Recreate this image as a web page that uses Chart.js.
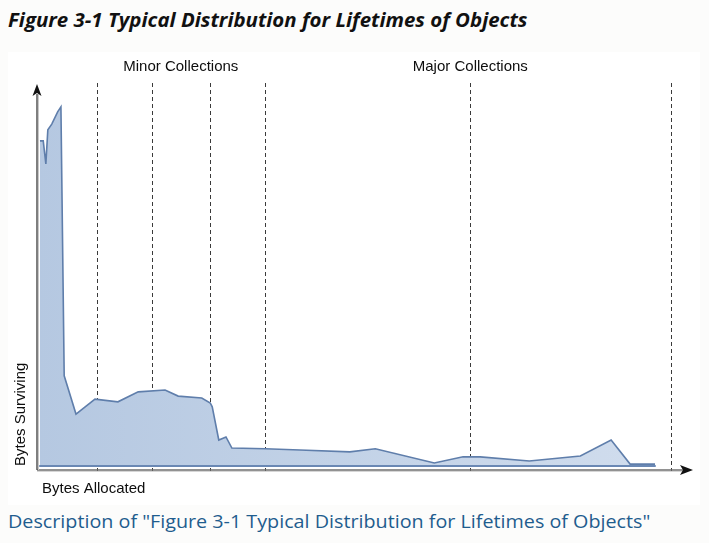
<!DOCTYPE html>
<html>
<head>
<meta charset="utf-8">
<script src="https://cdn.jsdelivr.net/npm/chart.js@4.4.1/dist/chart.umd.min.js"></script>
<style>
  body { margin: 0; background: #fcfcfb; width: 709px; height: 543px; overflow: hidden; position: relative; }
  #title { position: absolute; left: 8px; top: 7px; font-family: "Open Sans", sans-serif; font-weight: bold; font-style: italic; font-size: 19px; color: #111; white-space: nowrap; transform-origin: left top; }
  #box { position: absolute; left: 8px; top: 52px; width: 692px; height: 453px; background: #fff; }
  #caption { position: absolute; left: 8px; top: 508px; font-family: "Open Sans", sans-serif; font-size: 19px; color: #1f5d8e; white-space: nowrap; transform-origin: left top; }
  #wrap { position: absolute; left: 0; top: 0; width: 709px; height: 543px; }
</style>
</head>
<body>
<div id="title">Figure 3-1 Typical Distribution for Lifetimes of Objects</div>
<div id="box"></div>
<div id="caption">Description of "Figure 3-1 Typical Distribution for Lifetimes of Objects"</div>
<div id="wrap"><canvas id="lifetimes"></canvas></div>
<script>
// bytes allocated (0-100 along the axis) and bytes surviving (0-100 up the axis)
var allocated = [0.3, 0.8, 1.2, 1.5, 2.1, 3.0, 3.5, 4.0, 5.8, 8.7, 12.2, 15.3, 19.4, 21.4, 25.0, 26.3, 26.6,
  27.6, 28.7, 29.6, 34.7, 40.0, 47.6, 51.5, 60.5, 64.9, 67.5, 75.0, 82.8, 87.5, 90.4, 94.2];
var surviving = [85.1, 85.1, 79.1, 88.0, 89.5, 92.7, 94.0, 23.6, 13.6, 17.5, 16.8, 19.4, 19.9, 18.3, 17.8, 16.5, 15.5,
  6.8, 7.6, 4.7, 4.5, 4.2, 3.7, 4.5, 0.8, 2.4, 2.4, 1.3, 2.6, 6.8, 0.5, 0.5];

var collections = [9.0, 17.4, 26.3, 34.7, 66.0, 96.6];
var groupLabels = ['Minor Collections', 'Major Collections'];
var groupCenters = [21.8, 66.0];

// fit html texts to the widths in the figure
function fitWidth(id, w) {
  var el = document.getElementById(id);
  el.style.transform = 'scaleX(' + (w / el.offsetWidth) + ')';
}
fitWidth('title', 520);
fitWidth('caption', 642);

var points = allocated.map(function (x, i) { return { x: x, y: surviving[i] }; });

var decor = {
  id: 'decor',
  beforeDatasetsDraw: function (chart) {
    var c = chart.ctx, xs = chart.scales.x, ys = chart.scales.y;
    var y0 = ys.getPixelForValue(0), top = ys.getPixelForValue(100);
    c.save();
    c.strokeStyle = '#3a3a3a';
    c.lineWidth = 1;
    c.setLineDash([4, 3]);
    collections.forEach(function (v) {
      var px = Math.round(xs.getPixelForValue(v)) + 0.5;
      c.beginPath();
      c.moveTo(px, top - 1);
      c.lineTo(px, y0 + 6);
      c.stroke();
    });
    c.restore();
  },
  afterDatasetsDraw: function (chart) {
    var c = chart.ctx, xs = chart.scales.x, ys = chart.scales.y;
    var y0 = ys.getPixelForValue(0), top = ys.getPixelForValue(100);
    var x0 = xs.getPixelForValue(0) - 1, xEnd = xs.getPixelForValue(100);
    var last = xs.getPixelForValue(allocated[allocated.length - 1]);
    c.save();
    // darker bottom edge of the area
    c.strokeStyle = '#6a88b4';
    c.lineWidth = 2;
    c.lineCap = 'round';
    c.beginPath();
    c.moveTo(xs.getPixelForValue(allocated[0]), y0);
    c.lineTo(last, y0);
    c.stroke();
    // x axis
    c.lineCap = 'butt';
    c.strokeStyle = '#d6d6d6';
    c.lineWidth = 1;
    c.beginPath(); c.moveTo(x0, y0 + 5.5); c.lineTo(xEnd - 8, y0 + 5.5); c.stroke();
    c.strokeStyle = '#6e6e6e';
    c.lineWidth = 1.5;
    c.beginPath(); c.moveTo(x0, y0 + 4); c.lineTo(xEnd - 8, y0 + 4); c.stroke();
    c.fillStyle = '#111';
    c.beginPath();
    c.moveTo(xEnd, y0 + 4); c.lineTo(xEnd - 13, y0 - 1); c.lineTo(xEnd - 10, y0 + 4); c.lineTo(xEnd - 13, y0 + 9);
    c.closePath(); c.fill();
    // y axis
    c.strokeStyle = '#c8c8c8';
    c.lineWidth = 1;
    c.beginPath(); c.moveTo(x0 + 1.5, y0 + 4); c.lineTo(x0 + 1.5, top + 10); c.stroke();
    c.strokeStyle = '#555';
    c.lineWidth = 1.5;
    c.beginPath(); c.moveTo(x0, y0 + 4); c.lineTo(x0, top + 10); c.stroke();
    c.beginPath();
    c.moveTo(x0, top); c.lineTo(x0 - 4.5, top + 12); c.lineTo(x0, top + 9); c.lineTo(x0 + 4.5, top + 12);
    c.closePath(); c.fill();
    // texts
    c.fillStyle = '#0d0d0d';
    c.font = '15px "Liberation Sans", Arial, sans-serif';
    c.textAlign = 'center';
    c.textBaseline = 'middle';
    groupLabels.forEach(function (t, i) {
      c.fillText(t, xs.getPixelForValue(groupCenters[i]), top - 17);
    });
    c.textAlign = 'left';
    c.fillText('Bytes Allocated', x0 + 5, y0 + 23);
    c.translate(x0 - 16, y0);
    c.rotate(-Math.PI / 2);
    c.fillText('Bytes Surviving', 0, 0);
    c.restore();
  }
};

var ctx = document.getElementById('lifetimes');
var myChart = new Chart(ctx, {
  type: 'line',
  data: {
    datasets: [{
      data: points,
      borderColor: '#5f7eab',
      borderWidth: 1.6,
      pointRadius: 0,
      tension: 0,
      fill: 'origin',
      backgroundColor: function (context) {
        var area = context.chart.chartArea;
        if (!area) return '#bccde4';
        var g = context.chart.ctx.createLinearGradient(area.left, 0, area.right, 0);
        g.addColorStop(0, '#b5c8e1');
        g.addColorStop(1, '#d2deee');
        return g;
      }
    }]
  },
  options: {
    responsive: true,
    maintainAspectRatio: false,
    animation: false,
    layout: { padding: { left: 38, right: 16, top: 84, bottom: 77 } },
    plugins: { legend: { display: false }, tooltip: { enabled: false }, title: { display: false } },
    scales: {
      x: { type: 'linear', min: 0, max: 100, display: false },
      y: { min: 0, max: 100, display: false }
    }
  },
  plugins: [decor]
});
</script>
</body>
</html>
